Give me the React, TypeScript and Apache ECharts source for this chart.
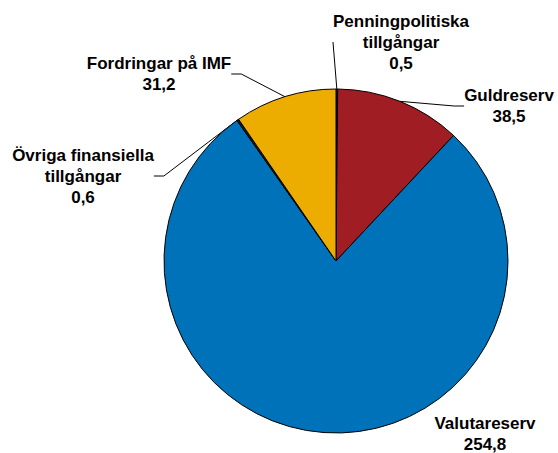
import React, { useEffect, useRef } from "react";
import * as echarts from "echarts";

const categories = [
  "Penningpolitiska\ntillgångar",
  "Guldreserv",
  "Valutareserv",
  "Övriga finansiella\ntillgångar",
  "Fordringar på IMF",
];
const values = [0.5, 38.5, 254.8, 0.6, 31.2];
const colors = ["#1a1a1a", "#A01D24", "#0072B9", "#1a1a1a", "#ECAC00"];
const labelPos: [number, number][] = [
  [401, 42],
  [509, 106],
  [485, 434],
  [83, 176],
  [159, 74],
];

export default function App() {
  const ref = useRef<HTMLDivElement>(null);
  useEffect(() => {
    document.body.style.margin = "0";
    const chart = echarts.init(ref.current!, null, { renderer: "svg" });
    chart.setOption({
      animation: false,
      backgroundColor: "#ffffff",
      series: [
        {
          type: "pie",
          center: [336, 261],
          radius: [0, 172],
          startAngle: 90,
          clockwise: true,
          avoidLabelOverlap: false,
          minAngle: 0,
          itemStyle: { borderColor: "#000", borderWidth: 1 },
          label: {
            show: true,
            position: "outside",
            color: "#000",
            fontFamily: "Liberation Sans, Arial, sans-serif",
            fontWeight: "bold",
            fontSize: 17,
            lineHeight: 21,
            align: "center",
            formatter: (p: any) => `${p.name}\n${String(p.value).replace(".", ",")}`,
          },
          labelLine: {
            show: true,
            lineStyle: { color: "#000", width: 1 },
            length: 10,
            length2: 10,
          },
          labelLayout: (p: any) => {
            const pos = labelPos[p.dataIndex];
            return { x: pos[0], y: pos[1], align: "center", verticalAlign: "middle" };
          },
          data: categories.map((name, i) => ({
            name,
            value: values[i],
            itemStyle: { color: colors[i] },
            labelLine: { show: i !== 2 },
          })),
        },
      ],
    });
    return () => chart.dispose();
  }, []);
  return <div ref={ref} style={{ width: 558, height: 453 }} />;
}
